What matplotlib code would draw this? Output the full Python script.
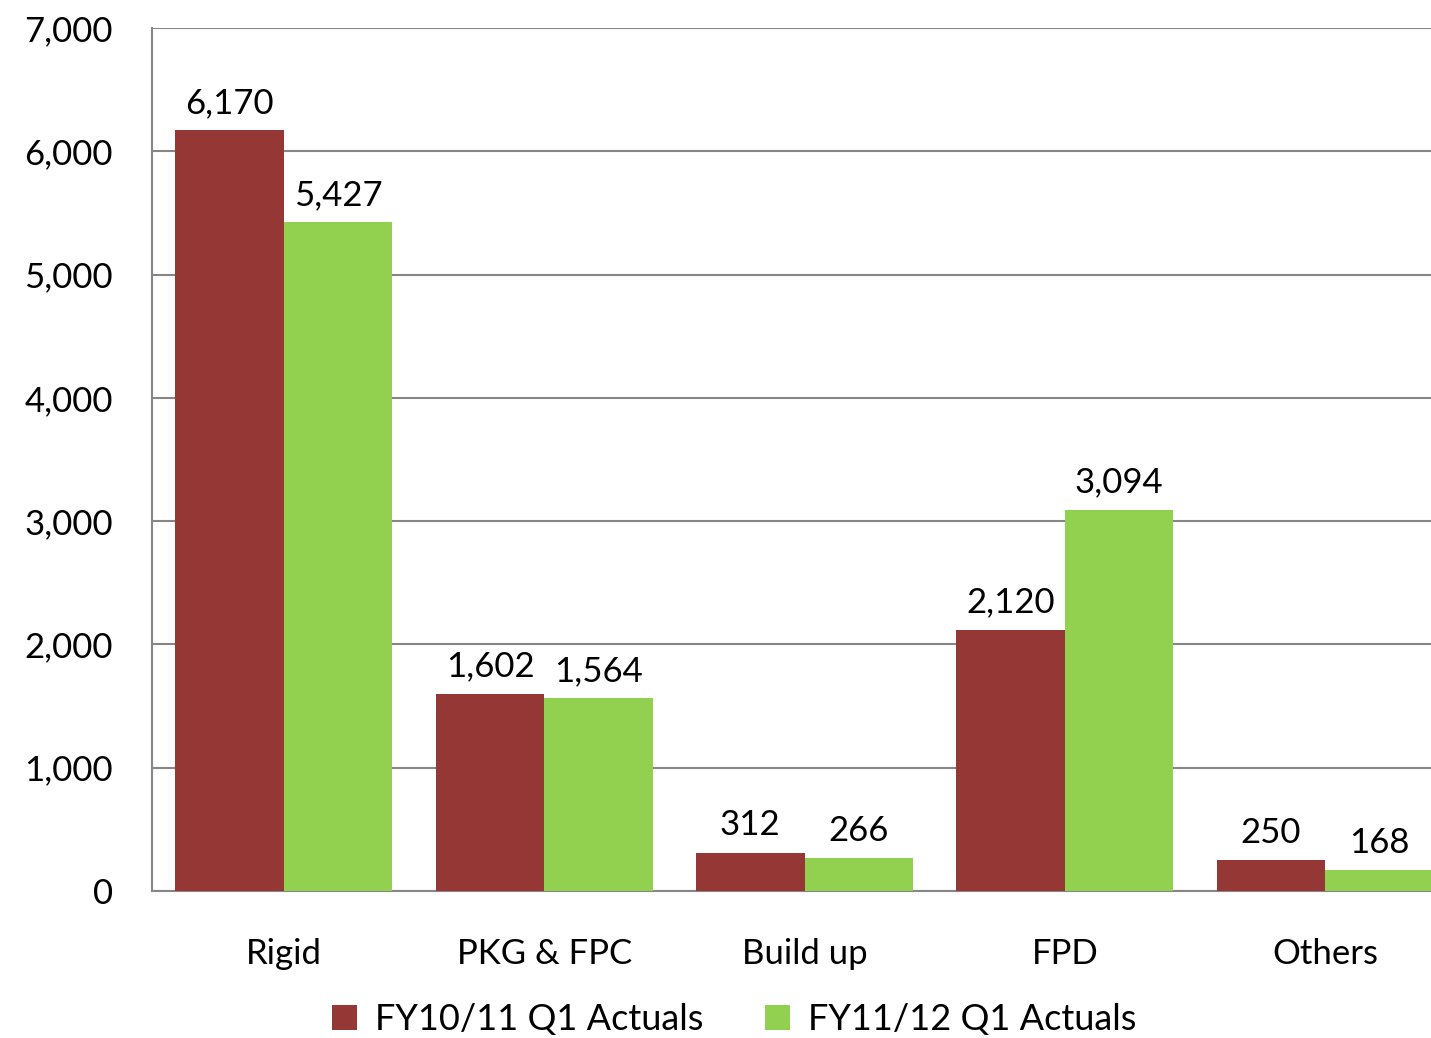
import numpy as np
import matplotlib.pyplot as plt

categories = ['Rigid', 'PKG & FPC', 'Build up', 'FPD', 'Others']
fy1011 = [6170, 1602, 312, 2120, 250]
fy1112 = [5427, 1564, 266, 3094, 168]
series_names = ['FY10/11 Q1 Actuals', 'FY11/12 Q1 Actuals']

plt.rcParams['font.family'] = ['Lato', 'DejaVu Sans']

fig = plt.figure(figsize=(14.31, 10.38), dpi=100)
ax = fig.add_axes([0.1062, 0.1416, 0.8938, 0.8314])

x = np.arange(len(categories))
w = 0.417
red = '#953735'
green = '#92D050'
b1 = ax.bar(x - w/2, fy1011, w, color=red, label=series_names[0], zorder=3)
b2 = ax.bar(x + w/2, fy1112, w, color=green, label=series_names[1], zorder=3)

for bars in (b1, b2):
    for b in bars:
        ax.annotate(f'{int(b.get_height()):,}', (b.get_x() + b.get_width()/2, b.get_height()),
                    xytext=(0, 8), textcoords='offset points', ha='center', va='bottom',
                    fontsize=25)

ax.set_xlim(-0.507, 4.407)
ax.set_ylim(0, 7000)
ax.set_yticks(range(0, 7001, 1000))
ax.set_yticklabels([f'{v:,}' for v in range(0, 7001, 1000)], fontsize=25)
ax.set_xticks(x)
ax.set_xticklabels(categories, fontsize=25)
ax.tick_params(length=0)
ax.tick_params(axis='y', pad=28)
ax.tick_params(axis='x', pad=34)
ax.grid(axis='y', color='#868686', linewidth=1.5, zorder=0)
for s in ['top', 'right']:
    ax.spines[s].set_visible(False)
ax.spines['left'].set_color('#868686')
ax.spines['bottom'].set_color('#868686')
ax.spines['left'].set_linewidth(1.5)
ax.spines['bottom'].set_linewidth(1.5)

ax.legend(loc='upper center', bbox_to_anchor=(0.455, -0.101), ncol=2, frameon=False,
          fontsize=26, handlelength=0.7, handleheight=0.7, handletextpad=0.5, columnspacing=1.7,
          borderpad=0.2)

plt.savefig('out.png')
